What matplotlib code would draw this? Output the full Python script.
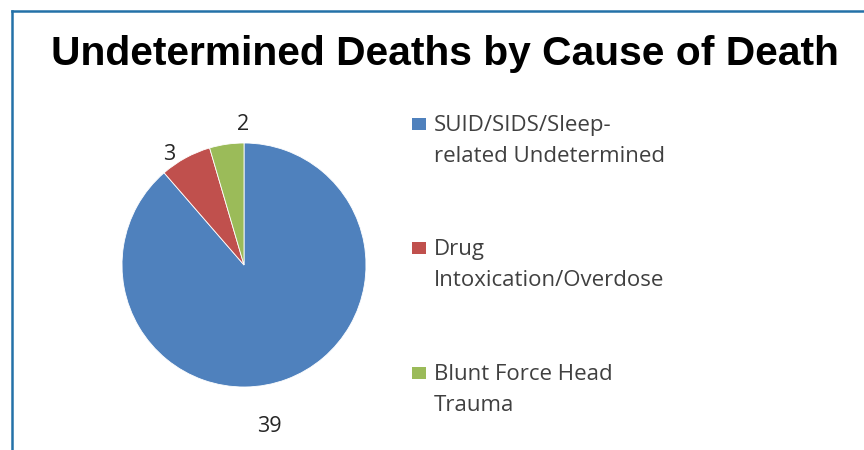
import matplotlib.pyplot as plt
from matplotlib.lines import Line2D

# data
causes = ["SUID/SIDS/Sleep-\nrelated Undetermined",
          "Drug\nIntoxication/Overdose",
          "Blunt Force Head\nTrauma"]
deaths = [39, 3, 2]
colors = ["#4F81BD", "#C0504D", "#9BBB59"]

fig = plt.figure(figsize=(8.64, 4.5), dpi=100)

# frame lines (top + left) like the original slide box
fig.add_artist(Line2D([12 / 864, 1], [1 - 11 / 450, 1 - 11 / 450],
                      transform=fig.transFigure, color="#2471A8", lw=1.8))
fig.add_artist(Line2D([12 / 864, 12 / 864], [0, 1 - 11 / 450],
                      transform=fig.transFigure, color="#2471A8", lw=1.8))

fig.text(445 / 864, 1 - 54 / 450, "Undetermined Deaths by Cause of Death",
         ha="center", va="center", fontsize=29.3, fontweight="bold",
         family="Liberation Sans", color="black")

# pie axis: center ~ (244, 265), radius ~122 px
r = 122
ax = fig.add_axes([(244 - r) / 864, (450 - 265 - r) / 450, 2 * r / 864, 2 * r / 450])
wedges, _ = ax.pie(deaths, colors=colors, startangle=90, counterclock=False,
                   wedgeprops=dict(edgecolor="white", linewidth=0.6))
ax.set_aspect("equal")
ax.set_xlim(-1, 1)
ax.set_ylim(-1, 1)

# data labels placed around the wedges
label_pos = [(269, 427), (169, 155), (243, 125)]
for val, (px, py) in zip(deaths, label_pos):
    fig.text(px / 864, 1 - py / 450, str(val), ha="center", va="center",
             fontsize=15.5, family="Open Sans", color="#262626")

# legend drawn by hand so each entry sits where the original put it
legend_y = [141, 265, 390]
for name, c, y in zip(causes, colors, legend_y):
    first_line_y = y - 17
    fig.patches.append(plt.Rectangle((412 / 864, 1 - (first_line_y + 6) / 450),
                                     14 / 864, 12 / 450, transform=fig.transFigure,
                                     facecolor=c, edgecolor="none"))
    fig.text(434 / 864, 1 - y / 450, name, ha="left", va="center",
             fontsize=16, family="Open Sans", color="#404040", linespacing=1.6)

fig.savefig("out.png", dpi=100)
